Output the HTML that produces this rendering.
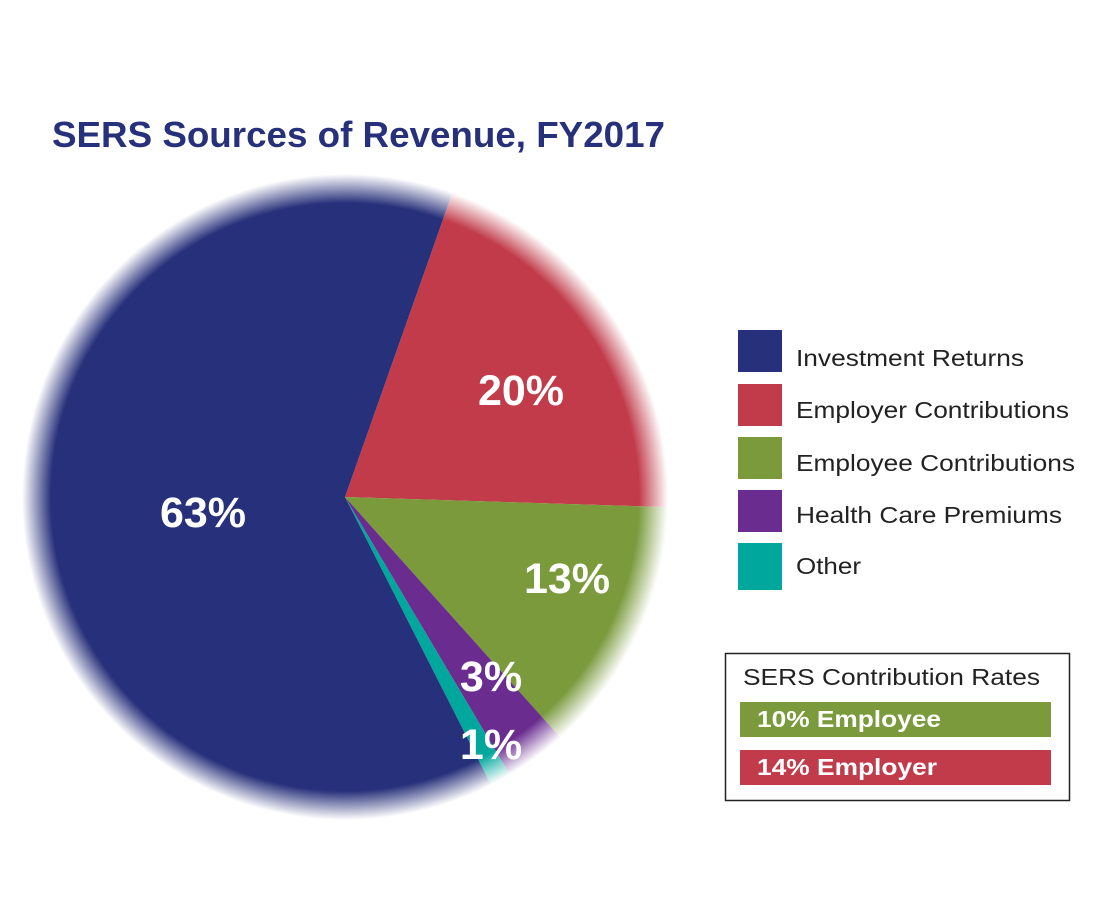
<!DOCTYPE html>
<html><head><meta charset="utf-8"><style>
body{margin:0;background:#fff;width:1100px;height:906px;overflow:hidden;font-family:"Liberation Sans",sans-serif}
</style></head><body>
<svg width="1100" height="906" xmlns="http://www.w3.org/2000/svg" style="position:absolute;left:0;top:0">
<defs>
<radialGradient id="fade" cx="345" cy="497" r="323" gradientUnits="userSpaceOnUse">
<stop offset="0.91" stop-color="#fff" stop-opacity="1"/>
<stop offset="1" stop-color="#fff" stop-opacity="0"/>
</radialGradient>
<mask id="m"><circle cx="345" cy="497" r="323" fill="url(#fade)"/></mask>
</defs>
<text x="52" y="147" font-size="36" font-weight="bold" fill="#27307a" textLength="613" lengthAdjust="spacingAndGlyphs">SERS Sources of Revenue, FY2017</text>
<g mask="url(#m)">
<path d="M345,497 L452.6,192.3 A323,323 0 0 1 667.8,507.1 Z" fill="#c13b4a"/>
<path d="M345,497 L667.8,507.1 A323,323 0 0 1 560.2,737.3 Z" fill="#7a9a3c"/>
<path d="M345,497 L560.2,737.3 A323,323 0 0 1 510.0,775.0 Z" fill="#6a2c8f"/>
<path d="M345,497 L510.0,775.0 A323,323 0 0 1 491.3,785.1 Z" fill="#00a79d"/>
<path d="M345,497 L491.3,785.1 A323,323 0 1 1 452.6,192.3 Z" fill="#27307a"/>
</g>
<g fill="#fff" font-weight="bold" font-size="43" text-anchor="middle">
<text x="521" y="405">20%</text>
<text x="203" y="527">63%</text>
<text x="567" y="593">13%</text>
<text x="491" y="691">3%</text>
<text x="491" y="759">1%</text>
</g>
<g font-size="23" fill="#222">
<rect x="738" y="330" width="44" height="42" fill="#27307a"/><text x="796" y="366" textLength="228" lengthAdjust="spacingAndGlyphs">Investment Returns</text>
<rect x="738" y="384" width="44" height="42" fill="#c13b4a"/><text x="796" y="418" textLength="273" lengthAdjust="spacingAndGlyphs">Employer Contributions</text>
<rect x="738" y="437" width="44" height="42" fill="#7a9a3c"/><text x="796" y="471" textLength="279" lengthAdjust="spacingAndGlyphs">Employee Contributions</text>
<rect x="738" y="490" width="44" height="42" fill="#6a2c8f"/><text x="796" y="523" textLength="266" lengthAdjust="spacingAndGlyphs">Health Care Premiums</text>
<rect x="738" y="543" width="44" height="47" fill="#00a79d"/><text x="796" y="574" textLength="65" lengthAdjust="spacingAndGlyphs">Other</text>
</g>
<rect x="725.5" y="653.5" width="344" height="147" fill="none" stroke="#222" stroke-width="1.5"/>
<text x="743" y="685" font-size="23" fill="#222" textLength="297" lengthAdjust="spacingAndGlyphs">SERS Contribution Rates</text>
<rect x="740" y="702" width="311" height="35" fill="#7a9a3c"/>
<text x="757" y="727" font-size="23" font-weight="bold" fill="#fff" textLength="184" lengthAdjust="spacingAndGlyphs">10% Employee</text>
<rect x="740" y="750" width="311" height="35" fill="#c13b4a"/>
<text x="757" y="775" font-size="23" font-weight="bold" fill="#fff" textLength="180" lengthAdjust="spacingAndGlyphs">14% Employer</text>
</svg>
</body></html>
